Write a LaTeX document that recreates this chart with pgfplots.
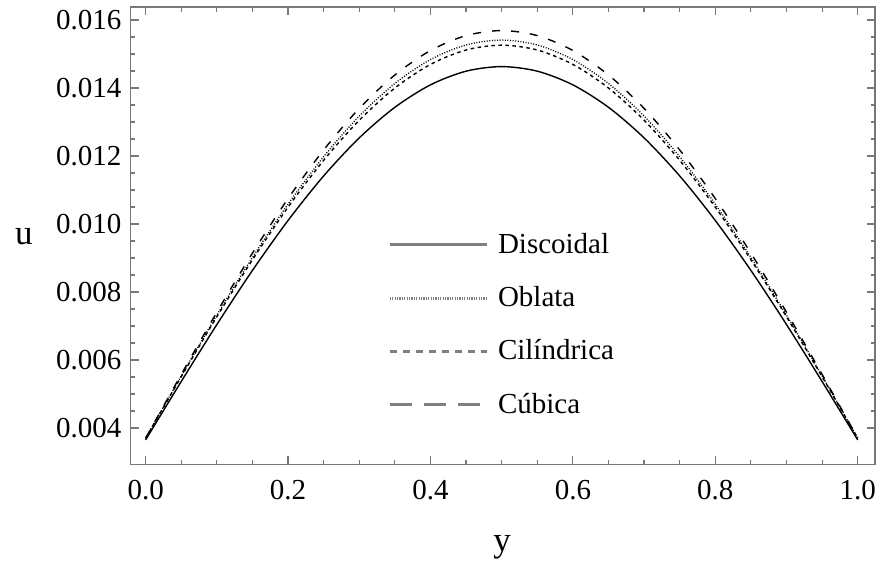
\documentclass[border=0pt]{standalone}
\usepackage{fontspec}
\setmainfont{Liberation Serif}
\usepackage{pgfplots}
\pgfplotsset{compat=1.18}

\definecolor{framegray}{RGB}{120,120,120}
\definecolor{leggray}{RGB}{128,128,128}

\begin{document}
\begin{tikzpicture}
\begin{axis}[
  scale only axis,
  width=744.3bp, height=457bp,
  xmin=-0.021, xmax=1.0243,
  ymin=0.002932, ymax=0.016374,
  xtick={0,0.2,0.4,0.6,0.8,1.0},
  ytick={0.004,0.006,0.008,0.010,0.012,0.014,0.016},
  minor tick num=3,
  tick align=inside,
  major tick length=8bp, minor tick length=4.5bp,
  axis line style={draw=framegray, line width=1.6bp},
  tick style={framegray, line width=1.2bp},
  scaled x ticks=false, scaled y ticks=false,
  /pgf/number format/assume math mode=true,
  xticklabel style={/pgf/number format/.cd, fixed, fixed zerofill, precision=1, /tikz/.cd, inner sep=0pt},
  yticklabel style={/pgf/number format/.cd, fixed, fixed zerofill, precision=3, /tikz/.cd, inner sep=0pt},
  xticklabel shift=15.7bp, yticklabel shift=9bp,
  tick label style={font=\fontsize{29bp}{30bp}\selectfont},
  xlabel={y},
  xlabel style={at={(axis description cs:0.499,-0.1919)}, anchor=base, inner sep=0pt, font=\fontsize{35bp}{36bp}\selectfont},
  ylabel={u},
  ylabel style={rotate=-90, at={(axis description cs:-0.1434,0.4799)}, anchor=base, inner sep=0pt, font=\fontsize{35bp}{36bp}\selectfont},
  legend image code/.code={\draw[#1] (0bp,0bp) -- (96.7bp,0bp);},
  legend cell align=left,
  legend style={at={(0.3461,0.5098)}, anchor=north west, draw=none, fill=none,
    inner sep=0pt, outer sep=0pt, row sep=26.3bp, column sep=10bp,
    font=\fontsize{29bp}{30bp}\selectfont,
    nodes={inner sep=0pt, text height=22bp, text depth=5bp}},
]

% Discoidal
\addplot[forget plot, smooth, black, line width=1.4bp] coordinates {
(0,0.00365) (0.05,0.005368) (0.1,0.007043) (0.15,0.008635) (0.2,0.010104)
(0.25,0.011414) (0.3,0.012533) (0.35,0.013433) (0.4,0.014093) (0.45,0.014495)
(0.5,0.01463) (0.55,0.014495) (0.6,0.014093) (0.65,0.013433) (0.7,0.012533)
(0.75,0.011414) (0.8,0.010104) (0.85,0.008635) (0.9,0.007043) (0.95,0.005368)
(1,0.00365)};

% Oblata
\addplot[forget plot, smooth, black, line width=1.3bp, dash pattern=on 1bp off 1.6bp] coordinates {
(0,0.0037) (0.05,0.005532) (0.1,0.007319) (0.15,0.009016) (0.2,0.010583)
(0.25,0.011980) (0.3,0.013174) (0.35,0.014134) (0.4,0.014837) (0.45,0.015266)
(0.5,0.01541) (0.55,0.015266) (0.6,0.014837) (0.65,0.014134) (0.7,0.013174)
(0.75,0.011980) (0.8,0.010583) (0.85,0.009016) (0.9,0.007319) (0.95,0.005532)
(1,0.0037)};

% Cilindrica
\addplot[forget plot, smooth, black, line width=1.4bp, dash pattern=on 3.5bp off 3.5bp] coordinates {
(0,0.0037) (0.05,0.005508) (0.1,0.007272) (0.15,0.008948) (0.2,0.010495)
(0.25,0.011874) (0.3,0.013052) (0.35,0.014000) (0.4,0.014694) (0.45,0.015118)
(0.5,0.01526) (0.55,0.015118) (0.6,0.014694) (0.65,0.014000) (0.7,0.013052)
(0.75,0.011874) (0.8,0.010495) (0.85,0.008948) (0.9,0.007272) (0.95,0.005508)
(1,0.0037)};

% Cubica
\addplot[forget plot, smooth, black, line width=1.4bp, dash pattern=on 8bp off 11bp] coordinates {
(0,0.0037) (0.05,0.005576) (0.1,0.007405) (0.15,0.009143) (0.2,0.010748)
(0.25,0.012178) (0.3,0.013400) (0.35,0.014383) (0.4,0.015103) (0.45,0.015542)
(0.5,0.01569) (0.55,0.015542) (0.6,0.015103) (0.65,0.014383) (0.7,0.013400)
(0.75,0.012178) (0.8,0.010748) (0.85,0.009143) (0.9,0.007405) (0.95,0.005576)
(1,0.0037)};

\addlegendimage{leggray, line width=3bp}
\addlegendentry{Discoidal}
\addlegendimage{leggray, line width=3bp, dash pattern=on 1.2bp off 1.2bp}
\addlegendentry{Oblata}
\addlegendimage{leggray, line width=3bp, dash pattern=on 7bp off 6bp}
\addlegendentry{Cilíndrica}
\addlegendimage{leggray, line width=3bp, dash pattern=on 22bp off 12bp}
\addlegendentry{Cúbica}
\end{axis}
\pgfresetboundingbox
\path (-130.7bp,-100.7bp) rectangle (747.3bp,464.3bp);
\end{tikzpicture}
\end{document}
